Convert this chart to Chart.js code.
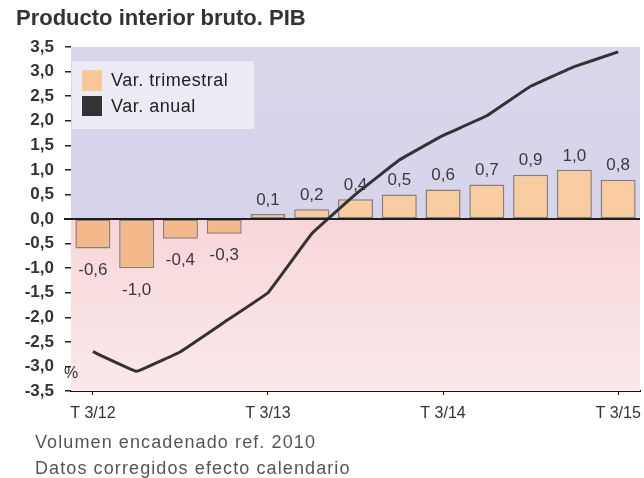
<!DOCTYPE html>
<html>
<head>
<meta charset="utf-8">
<script src="https://cdn.jsdelivr.net/npm/chart.js@4"></script>
<style>
  body { margin: 0; background: #fff; }
  #wrap { width: 644px; height: 478px; position: relative; }
</style>
</head>
<body>
<div id="wrap"><canvas id="pibChart" width="644" height="478"></canvas></div>
<script>
// trimestres
var trimestres = ['T 3/12', 'T 4/12', 'T 1/13', 'T 2/13', 'T 3/13', 'T 4/13', 'T 1/14',
                  'T 2/14', 'T 3/14', 'T 4/14', 'T 1/15', 'T 2/15', 'T 3/15'];
// variacion trimestral (barras)
var varTrimestral = [-0.6, -1.0, -0.4, -0.3, 0.1, 0.2, 0.4, 0.5, 0.6, 0.7, 0.9, 1.0, 0.8];
// variacion anual (linea)
var varAnual = [-2.7, -3.1, -2.7, -2.1, -1.5, -0.3, 0.5, 1.2, 1.7, 2.1, 2.7, 3.1, 3.4];
var yMin = -3.5, yMax = 3.5, yStep = 0.5;

var fontFam = "'Liberation Sans', Arial, sans-serif";
function coma(v, d) { return v.toFixed(d).replace('.', ','); }

// fondo (azul arriba, rosa abajo), linea del cero, etiquetas, leyenda y textos
var pibPlugin = {
    id: 'pib',
    beforeDatasetsDraw: function (chart) {
        var ctx = chart.ctx, a = chart.chartArea, y = chart.scales.y;
        var y0 = y.getPixelForValue(0);
        ctx.save();
        var g1 = ctx.createLinearGradient(0, a.top, 0, y0);
        g1.addColorStop(0, '#d9d7ec');
        g1.addColorStop(1, '#d6d4ea');
        ctx.fillStyle = g1;
        ctx.fillRect(a.left, a.top, a.right - a.left, y0 - a.top);
        var g2 = ctx.createLinearGradient(0, y0, 0, a.bottom);
        g2.addColorStop(0, '#f8d6d8');
        g2.addColorStop(1, '#fbe9ea');
        ctx.fillStyle = g2;
        ctx.fillRect(a.left, y0, a.right - a.left, a.bottom - y0);
        ctx.restore();
    },
    afterDatasetsDraw: function (chart) {
        var ctx = chart.ctx, a = chart.chartArea, y = chart.scales.y;
        var y0 = y.getPixelForValue(0);
        ctx.save();
        // linea del cero
        ctx.strokeStyle = '#1e1e1e';
        ctx.lineWidth = 2;
        ctx.beginPath();
        ctx.moveTo(a.left - 7, y0);
        ctx.lineTo(a.right, y0);
        ctx.stroke();

        // etiquetas de barras
        var meta = chart.getDatasetMeta(1);
        ctx.font = '17px ' + fontFam;
        ctx.fillStyle = '#3a3a3a';
        ctx.textAlign = 'center';
        ctx.textBaseline = 'middle';
        meta.data.forEach(function (bar, i) {
            var v = varTrimestral[i];
            var ty = v >= 0 ? bar.y - 14 : bar.y + 22;
            ctx.fillText(coma(v, 1), bar.x, ty);
        });

        // leyenda
        ctx.fillStyle = '#ebebf3';
        ctx.fillRect(a.left + 1, 61, 182, 68);
        ctx.fillStyle = '#f9c896';
        ctx.fillRect(82, 70, 20, 21);
        ctx.fillStyle = '#333333';
        ctx.fillRect(82, 96, 20, 20);
        ctx.fillStyle = '#222';
        ctx.textAlign = 'left';
        ctx.font = '18px ' + fontFam;
        ctx.letterSpacing = '0.5px';
        ctx.fillText('Var. trimestral', 111, 81);
        ctx.fillText('Var. anual', 111, 107);

        // %
        ctx.letterSpacing = '0px';
        ctx.fillStyle = '#333';
        ctx.font = '16px ' + fontFam;
        ctx.fillText('%', 64, 374);

        // titulo
        ctx.font = 'bold 22px ' + fontFam;
        ctx.fillStyle = '#333';
        ctx.fillText('Producto interior bruto. PIB', 16, 19);

        // notas
        ctx.font = '18px ' + fontFam;
        ctx.letterSpacing = '1.1px';
        ctx.fillStyle = '#555';
        ctx.fillText('Volumen encadenado ref. 2010', 35, 443);
        ctx.fillText('Datos corregidos efecto calendario', 35, 469);
        ctx.restore();
    }
};

var pibChart = new Chart(document.getElementById('pibChart').getContext('2d'), {
    type: 'bar',
    data: {
        labels: trimestres,
        datasets: [
            {
                type: 'line',
                label: 'Var. anual',
                data: varAnual,
                borderColor: '#333333',
                borderWidth: 3,
                pointRadius: 0,
                tension: 0.05,
                order: 0
            },
            {
                type: 'bar',
                label: 'Var. trimestral',
                data: varTrimestral,
                backgroundColor: varTrimestral.map(function (v) { return v < 0 ? '#f4b98a' : '#f8cc9f'; }),
                borderColor: '#8a7f78',
                borderWidth: 1.5,
                borderSkipped: false,
                barPercentage: 0.8,
                categoryPercentage: 1.0,
                order: 1
            }
        ]
    },
    options: {
        responsive: false,
        animation: false,
        layout: { padding: { top: 47, right: 4, left: 0, bottom: 0 } },
        plugins: {
            legend: { display: false },
            tooltip: { enabled: false },
            title: { display: false }
        },
        scales: {
            x: {
                offset: true,
                grid: {
                    offset: false,
                    drawOnChartArea: false,
                    tickLength: 4,
                    color: function (c) {
                        var l = trimestres[c.index];
                        return l && l.indexOf('T 3/') === 0 ? '#111' : 'rgba(0,0,0,0)';
                    }
                },
                border: { display: true, color: '#111', width: 2 },
                ticks: {
                    autoSkip: false,
                    maxRotation: 0,
                    padding: 9,
                    color: '#333',
                    font: { family: fontFam, size: 16 },
                    callback: function (v, i) {
                        var l = trimestres[i];
                        return l.indexOf('T 3/') === 0 ? l : '';
                    }
                },
                afterFit: function (s) {
                    s.height = 87;
                    s.paddingLeft = 0;
                    s.paddingRight = 0;
                }
            },
            y: {
                min: yMin,
                max: yMax,
                grid: { drawOnChartArea: false, tickLength: 6, color: '#222', lineWidth: 1.5 },
                border: { display: false },
                ticks: {
                    stepSize: yStep,
                    padding: 11,
                    color: '#333',
                    font: { family: fontFam, size: 17, weight: 'bold' },
                    callback: function (v) { return coma(v, 1); }
                },
                afterFit: function (s) { s.width = 71; }
            }
        }
    },
    plugins: [pibPlugin]
});
</script>
</body>
</html>
